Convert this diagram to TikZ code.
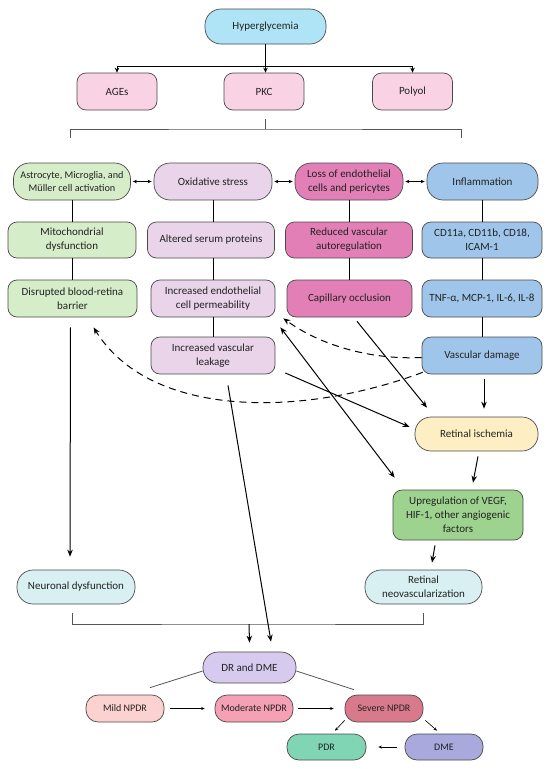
\documentclass[tikz,border=0pt]{standalone}
\usepackage{fontspec}
\setmainfont{Carlito}
\usetikzlibrary{arrows.meta}
\definecolor{bordc}{HTML}{4A4A4A}
\definecolor{cHyp}{HTML}{AEE4F6}
\definecolor{cPink}{HTML}{F9D3E3}
\definecolor{cGreenL}{HTML}{D6EDC9}
\definecolor{cPurL}{HTML}{E9D4EA}
\definecolor{cMag}{HTML}{E27FB6}
\definecolor{cBlue}{HTML}{9FC6EA}
\definecolor{cYel}{HTML}{FDEFC3}
\definecolor{cGreenM}{HTML}{9ED38F}
\definecolor{cCyanL}{HTML}{D8F0F1}
\definecolor{cLav}{HTML}{D6CBEE}
\definecolor{cMild}{HTML}{FBD2D0}
\definecolor{cMod}{HTML}{F5A0B4}
\definecolor{cSev}{HTML}{D97A8C}
\definecolor{cPDR}{HTML}{80D6B4}
\definecolor{cDME}{HTML}{A9A9DE}
\definecolor{brk}{HTML}{555555}
\definecolor{txt}{HTML}{222222}
\begin{document}
\begin{tikzpicture}[x=1pt,y=-1pt,
  box/.style={draw=bordc, line width=0.7pt, rounded corners=9pt, align=center,
    inner sep=1pt, font=\fontsize{11}{14}\selectfont, text=txt},
  pill/.style={box, rounded corners=16pt},
  small/.style={draw=bordc, line width=0.7pt, rounded corners=12pt, align=center,
    inner sep=1pt, font=\fontsize{10}{12}\selectfont, minimum height=27pt, minimum width=78pt, text=txt},
  arr/.style={line width=1pt, -{Stealth[length=7pt,width=5.5pt]}},
  tarr/.style={line width=1pt, -{Stealth[length=5pt,width=4.5pt]}},
  dbl/.style={line width=0.8pt, {Stealth[length=4pt,width=3.5pt]}-{Stealth[length=4pt,width=3.5pt]}},
  sarr/.style={line width=0.6pt, -{Stealth[length=3.5pt,width=3pt]}},
  conn/.style={line width=0.9pt},
  brack/.style={line width=0.6pt, draw=brk},
  dsh/.style={line width=1pt, dash pattern=on 7pt off 5pt, -{Stealth[length=7pt,width=5.5pt]}}
]
\useasboundingbox (0,0) rectangle (550,769);

% top
\node[pill, fill=cHyp, minimum width=121pt, minimum height=35pt] (hyp) at (265.5,26.5) {Hyperglycemia};
\node[box, fill=cPink, minimum width=80pt, minimum height=37pt] (ages) at (117,91.5) {AGEs};
\node[box, fill=cPink, minimum width=80pt, minimum height=37pt] (pkc) at (264,91.5) {PKC};
\node[box, fill=cPink, minimum width=80pt, minimum height=37pt] (poly) at (412.5,91.5) {Polyol};

\coordinate (j1) at (265.5,66);
\draw[conn] (hyp.south) -- (j1);
\draw[tarr] (j1) -| (ages.north);
\draw[tarr] (j1) -| (poly.north);
\draw[tarr] (j1) -- (j1 |- pkc.north);

\coordinate (b0) at (265,119);
\coordinate (b1) at (265,129);
\coordinate (bl) at (70,138);
\coordinate (br) at (461,138);
\draw[brack] (b0) -- (b1);
\draw[brack] (bl) |- (b1) -| (br);

% row 1
\node[pill, fill=cGreenL, minimum width=117pt, minimum height=37pt, font=\fontsize{10.2}{12.5}\selectfont] (astro) at (72,181.5) {Astrocyte, Microglia, and\\Müller cell activation};
\node[pill, fill=cPurL, minimum width=118pt, minimum height=37pt] (oxid) at (213,181.5) {Oxidative stress};
\node[pill, fill=cMag, minimum width=108pt, minimum height=37pt] (loss) at (349,181.5) {Loss of endothelial\\cells and pericytes};
\node[pill, fill=cBlue, minimum width=111pt, minimum height=37pt] (infl) at (482.5,181.5) {Inflammation};

\draw[dbl] ([xshift=2pt]astro.east) -- ([xshift=-2pt]oxid.west);
\draw[dbl] ([xshift=2pt]oxid.east) -- ([xshift=-2pt]loss.west);
\draw[dbl] ([xshift=2pt]loss.east) -- ([xshift=-2pt]infl.west);

% row 2
\node[box, fill=cGreenL, minimum width=128pt, minimum height=36pt] (mito) at (72,240) {Mitochondrial\\dysfunction};
\node[box, fill=cPurL, minimum width=127pt, minimum height=36pt] (alt) at (211,240) {Altered serum proteins};
\node[box, fill=cMag, minimum width=127pt, minimum height=36pt] (red) at (349,240) {Reduced vascular\\autoregulation};
\node[box, fill=cBlue, minimum width=120pt, minimum height=36pt] (cd) at (482,240) {CD11a, CD11b, CD18,\\ICAM-1};

% row 3
\node[box, fill=cGreenL, minimum width=129pt, minimum height=37pt] (dis) at (72.5,298.5) {Disrupted blood-retina\\barrier};
\node[box, fill=cPurL, minimum width=124pt, minimum height=37pt] (incend) at (213,298.5) {Increased endothelial\\cell permeability};
\node[box, fill=cMag, minimum width=125pt, minimum height=37pt] (cap) at (349.5,298.5) {Capillary occlusion};
\node[box, fill=cBlue, minimum width=120pt, minimum height=37pt] (tnf) at (482,298.5) {TNF-α, MCP-1, IL-6, IL-8};

% row 4
\node[box, fill=cPurL, minimum width=124pt, minimum height=37pt] (leak) at (213,355.5) {Increased vascular\\leakage};
\node[box, fill=cBlue, minimum width=120pt, minimum height=37pt] (vd) at (482,355.5) {Vascular damage};

% vertical links
\draw[conn] (astro.south) -- (mito.north);
\draw[conn] (mito.south) -- (dis.north -| mito.south);
\draw[conn] (oxid.south) -- (alt.north -| oxid.south);
\draw[conn] (alt.south -| incend.north) -- (incend.north);
\draw[conn] (incend.south) -- (leak.north);
\draw[conn] (loss.south) -- (red.north);
\draw[conn] (red.south) -- (cap.north -| red.south);
\draw[conn] (infl.south -| cd.north) -- (cd.north);
\draw[conn] (cd.south) -- (tnf.north);
\draw[conn] (tnf.south) -- (vd.north);

% lower nodes
\node[pill, fill=cYel, minimum width=123pt, minimum height=34pt] (isch) at (476.5,434) {Retinal ischemia};
\node[box, fill=cGreenM, minimum width=130pt, minimum height=50pt] (upreg) at (458,515) {Upregulation of VEGF,\\HIF-1, other angiogenic\\factors};
\node[pill, fill=cCyanL, minimum width=117pt, minimum height=34pt] (neo) at (423.5,587) {Retinal\\neovascularization};
\node[pill, fill=cCyanL, minimum width=118pt, minimum height=34pt] (neur) at (76,587) {Neuronal dysfunction};

\draw[arr] ([xshift=2pt,yshift=-5pt]vd.south) -- ([xshift=2pt,yshift=8pt]vd.south |- isch.north);
\draw[arr] ([xshift=1.5pt,yshift=-5pt]isch.south) -- ([xshift=15pt,yshift=7pt]upreg.north);
\draw[arr] ([xshift=-23pt,yshift=-5pt]upreg.south) -- ([xshift=8.5pt,yshift=7pt]neo.north);
\draw[arr] ([xshift=-2pt,yshift=-10pt]dis.south) -- ([xshift=-6pt,yshift=13pt]neur.north);

% crossing arrows
\draw[arr] ([xshift=7.5pt,yshift=-4pt]cap.south) -- ([xshift=-49.5pt,yshift=9pt]isch.north);
\draw[arr] ([xshift=10pt,yshift=-17.5pt]leak.east) -- ([xshift=-5pt,yshift=7pt]isch.west);
\draw[line width=1pt, {Stealth[length=7pt,width=5.5pt]}-{Stealth[length=7pt,width=5.5pt]}] ([xshift=5pt,yshift=-10pt]incend.south east) -- ([xshift=2pt,yshift=12pt]upreg.north west);
\draw[dsh] ([yshift=-2pt]vd.west) .. controls (370,360) and (320,345) .. ([xshift=8pt,yshift=-1pt]incend.south east);
\draw[dsh] ([xshift=1pt,yshift=2pt]vd.south west) .. controls (300,418) and (150,418) .. ([xshift=21pt,yshift=-10pt]dis.south);

% bottom bracket
\node[pill, fill=cLav, minimum width=93pt, minimum height=31pt, rounded corners=15pt] (dr) at (249.5,667.5) {DR and DME};
\coordinate (kl) at (72,613);
\coordinate (kr) at (423,613);
\coordinate (km) at (249,624);
\draw[brack] (kl) |- (km) -| (kr);
\draw[arr] (km) -- ([yshift=9pt]dr.north);
\draw[arr] ([xshift=15pt,yshift=-11pt]leak.south) -- ([xshift=21.5pt,yshift=10pt]dr.north);

% stages
\node[small, fill=cMild] (mild) at (125,708.5) {Mild NPDR};
\node[small, fill=cMod] (mod) at (254,708.5) {Moderate NPDR};
\node[small, fill=cSev] (sev) at (384,708.5) {Severe NPDR};
\node[small, fill=cPDR, minimum width=79pt, minimum height=26pt] (pdr) at (326.5,747) {PDR};
\node[small, fill=cDME, minimum height=26pt] (dme) at (444,747) {DME};

\draw[brack, line width=0.8pt] ([yshift=-3.5pt]dr.west) -- ([xshift=25pt,yshift=7pt]mild.north);
\draw[brack, line width=0.8pt] ([yshift=-3.5pt]dr.east) -- ([xshift=-30pt,yshift=5pt]sev.north);
\draw[sarr] ([xshift=6pt]mild.east) -- ([xshift=-10pt]mod.west);
\draw[sarr] ([xshift=5pt]mod.east) -- ([xshift=-11pt]sev.west);
\draw[sarr] ([xshift=-8pt]dme.west) -- ([xshift=12pt]pdr.east);
\draw[sarr] ([yshift=2pt]sev.south west) -- ([xshift=8.5pt,yshift=3pt]pdr.north);
\draw[sarr] ([xshift=2pt,yshift=2pt]sev.south east) -- ([xshift=-7pt,yshift=3pt]dme.north);
\end{tikzpicture}
\end{document}
